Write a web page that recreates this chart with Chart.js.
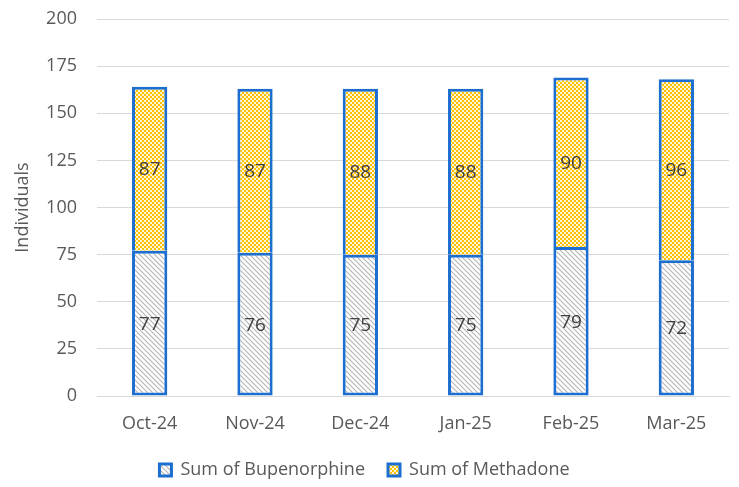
<!DOCTYPE html>
<html>
<head>
<meta charset="utf-8">
<script src="https://cdn.jsdelivr.net/npm/chart.js@4.4.1/dist/chart.umd.min.js"></script>
<style>
  html, body { margin: 0; padding: 0; background: #fff; }
  #wrap { width: 739px; height: 487px; position: relative; }
</style>
</head>
<body>
<div id="wrap"><canvas id="myChart"></canvas></div>
<script>
var months = ['Oct-24', 'Nov-24', 'Dec-24', 'Jan-25', 'Feb-25', 'Mar-25'];
var bupenorphine = [77, 76, 75, 75, 79, 72];
var methadone = [87, 87, 88, 88, 90, 96];
var yTicks = [0, 25, 50, 75, 100, 125, 150, 175, 200];

var FONT = "'Open Sans', 'Noto Sans', sans-serif";
var BLUE = '#1c6fd0';

// hatch patterns like the excel fills
function stripes() {
  var c = document.createElement('canvas');
  c.width = 5; c.height = 5;
  var g = c.getContext('2d');
  g.fillStyle = '#ffffff';
  g.fillRect(0, 0, 5, 5);
  g.strokeStyle = '#b3b3b3';
  g.lineWidth = 1.1;
  g.beginPath();
  g.moveTo(-1, -1); g.lineTo(6, 6);
  g.moveTo(-1, 4); g.lineTo(1, 6);
  g.moveTo(4, -1); g.lineTo(6, 1);
  g.stroke();
  return g.createPattern(c, 'repeat');
}
function checker() {
  var c = document.createElement('canvas');
  c.width = 4; c.height = 4;
  var g = c.getContext('2d');
  g.fillStyle = '#ffc000';
  g.fillRect(0, 0, 4, 4);
  g.fillStyle = '#fff6d6';
  g.fillRect(0, 0, 2, 2);
  g.fillRect(2, 2, 2, 2);
  return g.createPattern(c, 'repeat');
}

// value labels in the middle of each segment
var barLabels = {
  id: 'barLabels',
  afterDatasetsDraw: function(chart) {
    var ctx = chart.ctx;
    ctx.save();
    ctx.font = '19px ' + FONT;
    ctx.fillStyle = '#404040';
    ctx.textAlign = 'center';
    ctx.textBaseline = 'middle';
    chart.data.datasets.forEach(function(ds, di) {
      var meta = chart.getDatasetMeta(di);
      meta.data.forEach(function(bar, i) {
        ctx.fillText(ds.data[i], bar.x, (bar.y + bar.base) / 2 + 1);
      });
    });
    ctx.restore();
  }
};

var ctx = document.getElementById('myChart').getContext('2d');
var chart = new Chart(ctx, {
  type: 'bar',
  data: {
    labels: months,
    datasets: [{
      label: 'Sum of Bupenorphine',
      data: bupenorphine,
      backgroundColor: stripes(),
      borderColor: BLUE,
      borderWidth: 3,
      borderSkipped: false
    }, {
      label: 'Sum of Methadone',
      data: methadone,
      backgroundColor: checker(),
      borderColor: BLUE,
      borderWidth: 3,
      borderSkipped: 'bottom'
    }]
  },
  options: {
    responsive: true,
    maintainAspectRatio: false,
    animation: false,
    layout: { padding: { top: 19, right: 10, left: 0, bottom: -2 } },
    datasets: { bar: { categoryPercentage: 1, barPercentage: 0.335 } },
    scales: {
      x: {
        stacked: true,
        afterFit: function(scale) { scale.height = 42; },
        grid: { display: false, drawTicks: false },
        border: { color: '#d9d9d9', width: 1 },
        ticks: { color: '#595959', font: { family: FONT, size: 18 }, padding: 17 }
      },
      y: {
        stacked: true,
        min: 0,
        max: 200,
        afterBuildTicks: function(scale) {
          scale.ticks = yTicks.map(function(v) { return { value: v }; });
        },
        afterFit: function(scale) { scale.width = 97; },
        grid: { color: '#d9d9d9', lineWidth: 1, drawTicks: true, tickLength: 20, tickColor: 'rgba(0,0,0,0)' },
        border: { display: false },
        ticks: { color: '#595959', font: { family: FONT, size: 18 }, padding: 0 },
        title: {
          display: true,
          text: 'Individuals',
          color: '#595959',
          font: { family: FONT, size: 18 },
          padding: { top: 12, bottom: 2 }
        }
      }
    },
    plugins: {
      legend: {
        position: 'bottom',
        labels: {
          color: '#595959',
          font: { family: FONT, size: 18 },
          boxWidth: 12,
          boxHeight: 12,
          padding: 23
        }
      },
      tooltip: { enabled: false }
    }
  },
  plugins: [barLabels]
});
</script>
</body>
</html>
